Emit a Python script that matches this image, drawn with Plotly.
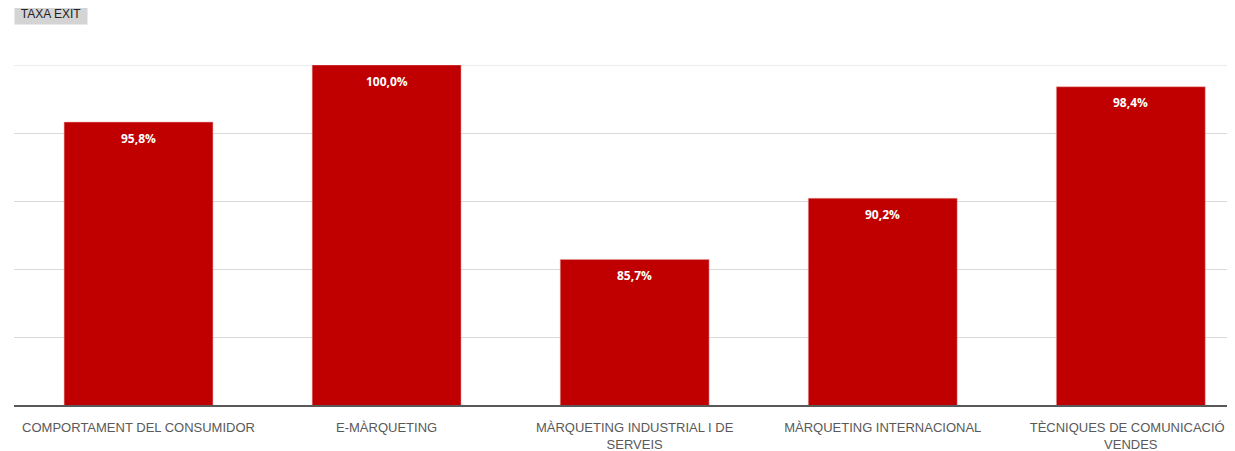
import plotly.graph_objects as go

categories = ["COMPORTAMENT DEL CONSUMIDOR", "E-MÀRQUETING", "MÀRQUETING INDUSTRIAL I DE<br>SERVEIS",
              "MÀRQUETING INTERNACIONAL", "TÈCNIQUES DE COMUNICACIÓ I<br>VENDES"]
values = [95.8, 100.0, 85.7, 90.2, 98.4]
labels = [f"{v:.1f}%".replace(".", ",") for v in values]

fig = go.Figure(go.Bar(
    x=categories, y=values,
    marker=dict(color="#c00000", line=dict(color="#e8a0a0", width=0.5)),
    width=0.6,
))

annotations = [dict(x=c, y=v, text=f"<b>{t}</b>", showarrow=False, yanchor="middle", yshift=-16,
                    font=dict(color="white", size=12, family="Open Sans"))
               for c, v, t in zip(categories, values, labels)]
annotations.append(dict(text="TAXA EXIT", xref="paper", yref="paper", x=0, y=1.0,
                        xanchor="left", yanchor="bottom", yshift=40, showarrow=False,
                        bgcolor="#d4d4d4", width=68, height=17,
                        font=dict(size=12, color="#222222", family="Liberation Sans"),
                        borderpad=2))

fig.update_layout(
    width=1227, height=443,
    margin=dict(l=6, r=0, t=57, b=46),
    plot_bgcolor="white", paper_bgcolor="white",
    showlegend=False,
    font=dict(family="Liberation Sans", color="#595959"),
    xaxis=dict(range=[-0.502, 4.42], showline=True, linecolor="#595959", linewidth=2,
               tickfont=dict(size=13, color="#595959"), ticks="", ticklabelstandoff=9,
               automargin=False),
    yaxis=dict(range=[75, 100], tickvals=[80, 85, 90, 95], showticklabels=False,
               gridcolor="#d9d9d9", gridwidth=1, zeroline=False, automargin=False),
    shapes=[dict(type="line", xref="paper", x0=0, x1=1, yref="y", y0=100, y1=100,
                 line=dict(color="#d9d9d9", width=1), layer="below")],
    annotations=annotations,
)
fig.write_html("out.html")
